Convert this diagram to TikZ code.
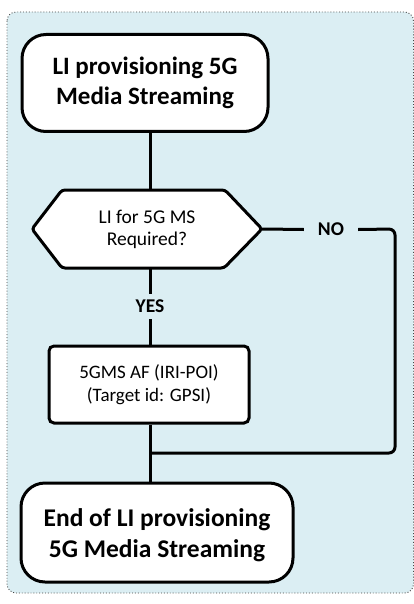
\documentclass[tikz,border=0pt]{standalone}
\usepackage{fontspec}
\setmainfont{Carlito}
\usetikzlibrary{calc}
\definecolor{panelblue}{RGB}{219,238,243}
\definecolor{paneledge}{RGB}{70,70,70}
\tikzset{
  conn/.style={line width=3pt},
  termbox/.style={draw, line width=3pt, fill=white, rounded corners=24pt, align=center,
    font=\fontsize{25}{30}\selectfont\bfseries, inner sep=0pt},
  procbox/.style={draw, line width=3pt, fill=white, rounded corners=5pt, align=center,
    font=\fontsize{19}{23}\selectfont, inner sep=0pt},
  lbl/.style={font=\fontsize{19.5}{20}\selectfont\bfseries, fill=panelblue},
}
\begin{document}
\begin{tikzpicture}[x=1pt,y=-1pt]
\useasboundingbox (0,0) rectangle (414,604);
% panel
\draw[fill=panelblue, draw=paneledge, dotted, line width=0.9pt, rounded corners=9pt] (7,12) rectangle (413.5,593);
\coordinate (spine) at (150,0);
% top terminator
\node[termbox, minimum width=246pt, minimum height=97pt] (start) at (145,83) {LI provisioning 5G\\Media Streaming};
% decision hexagon
\coordinate (hexL) at (32,229);
\coordinate (hexR) at (262,229);
\coordinate (hexT) at (150,190);
\coordinate (hexB) at (150,268);
\draw[line width=3pt, fill=white, rounded corners=3pt] (hexL) -- (62,190) -- (225,190) -- (hexR) -- (224,268) -- (62,268) -- cycle;
\node[align=center, font=\fontsize{19.5}{21.5}\selectfont] (dec) at (147,229.5) {LI for 5G MS\\Required?};
% process box
\node[procbox, minimum width=200pt, minimum height=77pt] (af) at (149,384.5) {5GMS AF (IRI-POI)\\(Target id: GPSI)};
% end terminator
\node[termbox, minimum width=272pt, minimum height=99pt, font=\fontsize{25.5}{31}\selectfont\bfseries] (end) at (157,532.5) {\rule{0pt}{24pt}End of LI provisioning\\5G Media Streaming};
% labels
\node[lbl, inner xsep=0pt, inner ysep=6pt] (yes) at (150,306.5) {YES};
\node[lbl, inner xsep=14pt, inner ysep=2pt] (no) at (331,229.5) {NO};
\coordinate (join) at (150,453);
\coordinate (ncorner) at (395,229);
% connectors
\draw[conn] (start.south -| spine) -- (hexT);
\draw[conn] (hexB) -- (yes.north);
\draw[conn] (yes.south) -- (af.north -| spine);
\draw[conn] (af.south -| spine) -- (end.north -| spine);
\draw[conn] (hexR) -- (no.west);
\draw[conn, rounded corners=6pt] (no.east) -- (ncorner) -- (ncorner |- join) -- (join);
\end{tikzpicture}
\end{document}
